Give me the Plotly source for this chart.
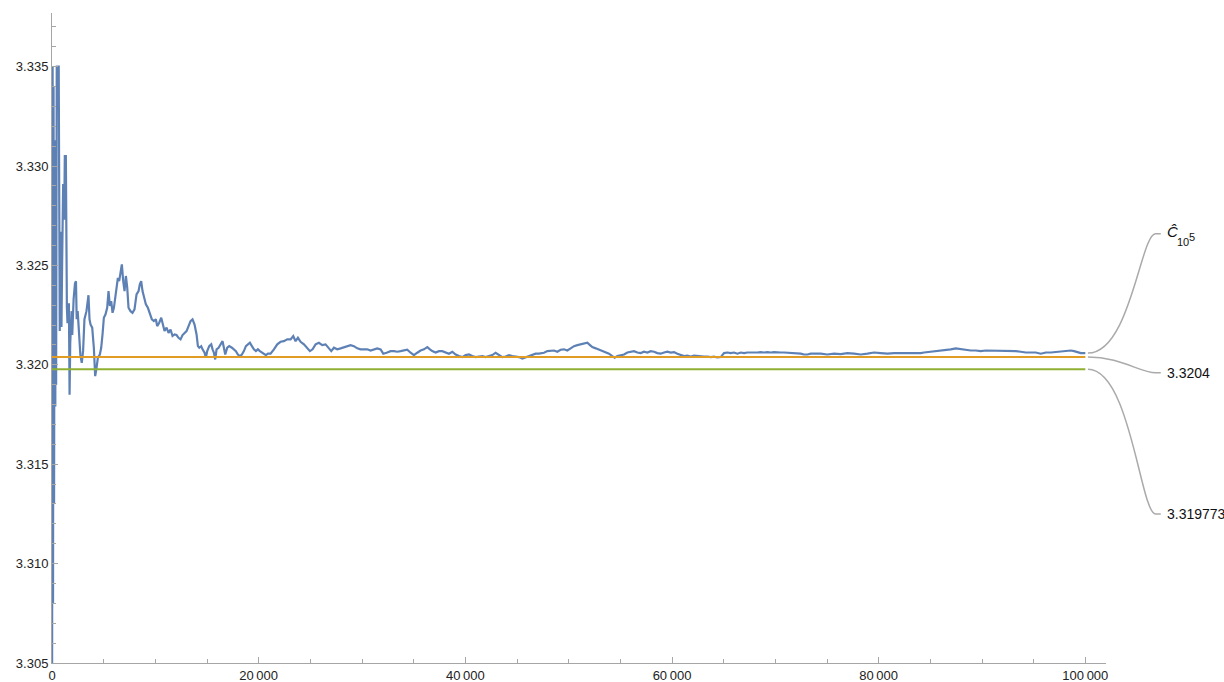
import plotly.graph_objects as go

# ---------------- data ----------------
# sample count n and running estimate C_hat(n)
n_vals = [
    0, 60, 100, 150, 200, 260, 320, 360, 400, 440, 460, 650, 690, 750, 850, 915, 980, 1080, 1180, 1240,
    1340, 1375, 1440, 1500, 1635, 1700, 1765, 1900, 1960, 2090, 2225, 2320, 2390, 2485, 2615, 2745, 2880,
    3010, 3140, 3335, 3530, 3630,
    3727, 3890, 4050, 4180, 4310, 4440, 4630, 4760, 4890, 5020, 5180, 5340, 5470, 5600, 5730, 5860, 5990,
    6115, 6245, 6375, 6500, 6630, 6760, 6890, 7020, 7150, 7280, 7405, 7600, 7790, 7985, 8180, 8375, 8500,
    8630, 8760, 8890, 9085, 9280, 9470, 9665, 9860, 10050, 10180, 10375, 10570, 10760, 10890, 11085, 11280,
    11470, 11665, 11860, 12050, 12245, 12440, 12635, 12825, 13020, 13215, 13410, 13600, 13795, 13990, 14120,
    14250, 14440, 14570, 14765, 14890, 15020, 15215, 15410, 15540, 15670, 15795, 15925, 16120, 16310, 16505,
    16635, 16765, 16960, 17150, 17410, 17600, 17795, 17990, 18185, 18375, 18570, 18765, 18960, 19150, 19345,
    19540, 19735, 19925, 20120, 20315, 20510, 20700, 20895, 21150,
    21475, 21800, 22120, 22440, 22765, 23090, 23345, 23570, 23800, 24055, 24380, 24700, 24960, 25215, 25510,
    25830, 26150, 26475, 26800, 27025, 27280, 27605, 27930, 28250, 28575, 28895, 29220, 29540, 29865, 30185,
    30510, 30830, 31155, 31475, 31800, 32060, 32380, 32770, 33090, 33415, 33735, 34060, 34380, 34705, 35025,
    35350, 35670, 35995, 36320, 36575, 36800, 37125, 37450, 37770, 38095, 38415, 38740, 39060, 39385, 39705,
    40030, 40350, 40675, 41000, 41320, 41645, 41965, 42290, 42610, 42935, 43255, 43580, 43900, 44225, 44550,
    44870, 45195, 45515, 45840, 46160, 46485, 46805, 47130,
    47610, 47935, 48255, 48580, 48900, 49225, 49545, 49870, 50190, 50515, 50840, 51160, 51485, 51805, 52065,
    52290, 52615, 52935, 53260, 53580, 53905, 54225, 54450, 54710, 55035, 55355, 55680, 56000, 56325, 56645,
    56970, 57290, 57615, 57940, 58260, 58585, 58905, 59230, 59550, 59875, 60195, 60520, 60840, 61165, 61485,
    61810, 62135, 62455, 62780, 63100, 63425, 63745, 64070, 64390, 64715, 65035, 65360, 65680, 66005, 66330,
    66650, 66975, 67295, 67620, 67940, 68265, 68585, 68910, 69230, 69555, 69875, 70200, 70520, 70845, 71170,
    71490, 71815, 72135, 72460, 72780, 73105, 73430,
    73745, 74390, 75035, 75680, 76325, 76970, 77620, 78265, 78910, 79555, 80200, 80845, 81490, 82135, 82780,
    83425, 84070, 84395, 85040, 85685, 86330, 86975, 87460, 87945, 88430, 88910, 89395, 89880, 90365, 90850,
    91330, 91815, 92300, 92785, 93270, 93755, 94240, 94720, 95205, 95690, 96175, 96660, 97145, 97625, 98110,
    98595, 98915, 99240, 99560, 100000,
]
c_hat = [
    3.2980, 3.3350, 3.3080, 3.3340, 3.3130, 3.3313, 3.3179, 3.3300, 3.3190, 3.3323, 3.3350, 3.3350, 3.3247,
    3.3217, 3.3267, 3.3219, 3.3251, 3.3291, 3.3273, 3.3305, 3.3305, 3.3251, 3.3229, 3.3221, 3.3231, 3.3185,
    3.3211, 3.3227, 3.3215, 3.3233, 3.3241, 3.3242, 3.3223, 3.3227, 3.3215, 3.3205, 3.3201, 3.3207, 3.3223,
    3.3227, 3.3235, 3.3223,
    3.32203, 3.32187, 3.32086, 3.31943, 3.31985, 3.32036, 3.32052, 3.32086, 3.32153, 3.32237, 3.32254,
    3.32287, 3.32371, 3.32296, 3.32321, 3.32262, 3.32287, 3.32338, 3.32371, 3.32438, 3.32421, 3.32472,
    3.32505, 3.32421, 3.32371, 3.32447, 3.32388, 3.32287, 3.32270, 3.32262, 3.32279, 3.32354, 3.32371,
    3.32405, 3.32421, 3.32371, 3.32338, 3.32304, 3.32287, 3.32254, 3.32229, 3.32220, 3.32229, 3.32195,
    3.32212, 3.32237, 3.32203, 3.32170, 3.32187, 3.32161, 3.32178, 3.32145, 3.32153, 3.32150, 3.32136,
    3.32128, 3.32150, 3.32161, 3.32170, 3.32195, 3.32220, 3.32229, 3.32203, 3.32153, 3.32094, 3.32086,
    3.32094, 3.32078, 3.32061, 3.32036, 3.32069, 3.32094, 3.32103, 3.32078, 3.32061, 3.32027, 3.32078,
    3.32086, 3.32103, 3.32119, 3.32086, 3.32052, 3.32086, 3.32094, 3.32086, 3.32078, 3.32069, 3.32052,
    3.32044, 3.32052, 3.32069, 3.32094, 3.32103, 3.32111, 3.32094, 3.32078, 3.32069, 3.32078, 3.32069,
    3.32061, 3.32056, 3.32049, 3.32056, 3.32056,
    3.32078, 3.32103, 3.32116, 3.32119, 3.32128, 3.32128, 3.32145, 3.32119, 3.32136, 3.32116, 3.32103,
    3.32086, 3.32069, 3.32078, 3.32103, 3.32111, 3.32099, 3.32103, 3.32086, 3.32069, 3.32086, 3.32078,
    3.32083, 3.32089, 3.32094, 3.32099, 3.32094, 3.32083, 3.32078, 3.32078, 3.32078, 3.32072, 3.32078,
    3.32083, 3.32078, 3.32056, 3.32061, 3.32069, 3.32069, 3.32066, 3.32069, 3.32072, 3.32076, 3.32061,
    3.32049, 3.32061, 3.32072, 3.32078, 3.32089, 3.32078, 3.32069, 3.32062, 3.32069, 3.32069, 3.32064,
    3.32056, 3.32066, 3.32052, 3.32044, 3.32039, 3.32049, 3.32052, 3.32044, 3.32039, 3.32042, 3.32044,
    3.32039, 3.32044, 3.32049, 3.32061, 3.32049, 3.32039, 3.32042, 3.32049, 3.32044, 3.32041, 3.32039,
    3.32032, 3.32039, 3.32046, 3.32052, 3.32056, 3.32056,
    3.32061, 3.32069, 3.32069, 3.32072, 3.32066, 3.32076, 3.32078, 3.32072, 3.32083, 3.32094, 3.32099,
    3.32103, 3.32106, 3.32111, 3.32099, 3.32089, 3.32083, 3.32076, 3.32072, 3.32062, 3.32056, 3.32044,
    3.32036, 3.32044, 3.32049, 3.32052, 3.32062, 3.32066, 3.32069, 3.32062, 3.32059, 3.32066, 3.32062,
    3.32069, 3.32066, 3.32059, 3.32056, 3.32062, 3.32066, 3.32062, 3.32064, 3.32056, 3.32049, 3.32044,
    3.32046, 3.32042, 3.32046, 3.32044, 3.32042, 3.32041, 3.32042, 3.32039, 3.32041, 3.32037, 3.32039,
    3.32059, 3.32062, 3.32059, 3.32062, 3.32056, 3.32062, 3.32059, 3.32062, 3.32061, 3.32062, 3.32062,
    3.32064, 3.32062, 3.32064, 3.32062, 3.32064, 3.32062, 3.32062, 3.32062, 3.32061, 3.32059, 3.32057,
    3.32056, 3.32056, 3.32052, 3.32052, 3.32056,
    3.32056, 3.32056, 3.32052, 3.32056, 3.32054, 3.32059, 3.32056, 3.32052, 3.32056, 3.32062, 3.32059,
    3.32056, 3.32059, 3.32059, 3.32059, 3.32056, 3.32059, 3.32062, 3.32066, 3.32069, 3.32072, 3.32078,
    3.32083, 3.32079, 3.32076, 3.32072, 3.32072, 3.32069, 3.32072, 3.32072, 3.32069, 3.32069, 3.32069,
    3.32069, 3.32069, 3.32066, 3.32062, 3.32062, 3.32062, 3.32056, 3.32062, 3.32062, 3.32064, 3.32066,
    3.32067, 3.32072, 3.32069, 3.32062, 3.32059, 3.32059,
]

ref_a = 3.3204        # orange reference level
ref_b = 3.319773      # green reference level
ref_span = [0, 100000]

callout_texts = ["3.3204", "3.319773"]
chat_parts = ["<i>Ĉ</i>", "10", "5"]   # C-hat with subscript 10^5

x_tickvals = [0, 20000, 40000, 60000, 80000, 100000]
x_ticktext = ["0", "20\u2009000", "40\u2009000", "60\u2009000", "80\u2009000", "100\u2009000"]

# ---------------- styling / layout constants ----------------
BLUE = "#5E81B5"
ORANGE = "#E19C24"
GREEN = "#8FB032"
AXIS = "#a6a6a6"
CALL = "#aaaaaa"
TXT = "#111111"
FONT = "Liberation Sans, Arial, sans-serif"

X_RANGE = [0, 102000]
Y_RANGE = [3.305, 3.3377]


def to_paper(x, y):
    return ((x - X_RANGE[0]) / (X_RANGE[1] - X_RANGE[0]),
            (y - Y_RANGE[0]) / (Y_RANGE[1] - Y_RANGE[0]))


fig = go.Figure()
fig.add_trace(go.Scatter(x=n_vals, y=c_hat, mode="lines",
                         line=dict(color=BLUE, width=2.2), hoverinfo="skip"))
fig.add_trace(go.Scatter(x=ref_span, y=[ref_a, ref_a], mode="lines",
                         line=dict(color=ORANGE, width=2), hoverinfo="skip"))
fig.add_trace(go.Scatter(x=ref_span, y=[ref_b, ref_b], mode="lines",
                         line=dict(color=GREEN, width=2), hoverinfo="skip"))

# callouts (curved leader lines from the series ends to the labels)
start_vals = [c_hat[-1], ref_a, ref_b]
label_vals = [3.3266, 3.3196, 3.3125]
x_start = 100250
x_label = 107300
shapes = []
annotations = []
for i, (sv, lv) in enumerate(zip(start_vals, label_vals)):
    x0, y0 = to_paper(x_start, sv)
    x3, y3 = to_paper(x_label, lv)
    c1x = to_paper(x_start + (4100 if i != 1 else 3100), sv)[0]
    c2x = x3 - 0.019
    ex = x3 - 0.005
    path = f"M {x0},{y0} C {c1x},{y0} {c2x},{y3} {ex},{y3} L {x3},{y3}"
    shapes.append(dict(type="path", path=path, xref="paper", yref="paper",
                       line=dict(color=CALL, width=1.5)))
    if i == 0:
        # C-hat with its subscript 10 and raised 5
        annotations.append(dict(x=x3 + 0.004, y=y3, xref="paper", yref="paper",
                                text=chat_parts[0], showarrow=False, xanchor="left",
                                yanchor="middle", yshift=2,
                                font=dict(family=FONT, size=15, color=TXT)))
        annotations.append(dict(x=x3 + 0.004, y=y3, xref="paper", yref="paper",
                                text=chat_parts[1], showarrow=False, xanchor="left",
                                yanchor="middle", xshift=10, yshift=-8,
                                font=dict(family=FONT, size=11, color=TXT)))
        annotations.append(dict(x=x3 + 0.004, y=y3, xref="paper", yref="paper",
                                text=chat_parts[2], showarrow=False, xanchor="left",
                                yanchor="middle", xshift=22, yshift=-3,
                                font=dict(family=FONT, size=11, color=TXT)))
    else:
        annotations.append(dict(x=x3 + 0.004, y=y3, xref="paper", yref="paper",
                                text=callout_texts[i - 1], showarrow=False, xanchor="left",
                                yanchor="middle",
                                font=dict(family=FONT, size=14, color=TXT)))

fig.update_layout(
    width=1224, height=682,
    margin=dict(l=52, r=118, t=13, b=19, autoexpand=False),
    paper_bgcolor="white", plot_bgcolor="white",
    showlegend=False,
    font=dict(family=FONT, size=13, color="#222222"),
    shapes=shapes, annotations=annotations,
    xaxis=dict(range=X_RANGE, showgrid=False, zeroline=False, automargin=False,
               showline=True, linecolor=AXIS, linewidth=1,
               tickmode="array", tickvals=x_tickvals, ticktext=x_ticktext,
               ticks="inside", ticklen=6, tickcolor=AXIS, tickwidth=1,
               minor=dict(tickmode="linear", tick0=0, dtick=5000, ticks="inside",
                          ticklen=4, tickcolor=AXIS, tickwidth=1),
               tickfont=dict(family=FONT, size=13, color="#222222")),
    yaxis=dict(range=Y_RANGE, showgrid=False, zeroline=False, automargin=False,
               showline=True, linecolor=AXIS, linewidth=1,
               tickmode="linear", tick0=3.305, dtick=0.005, tickformat=".3f",
               ticks="inside", ticklen=6, tickcolor=AXIS, tickwidth=1,
               minor=dict(tickmode="linear", tick0=3.305, dtick=0.001, ticks="inside",
                          ticklen=4, tickcolor=AXIS, tickwidth=1),
               tickfont=dict(family=FONT, size=13, color="#222222")),
)

fig.write_html("out.html", config={"displayModeBar": False},
               post_script="document.body.style.margin='0';")
